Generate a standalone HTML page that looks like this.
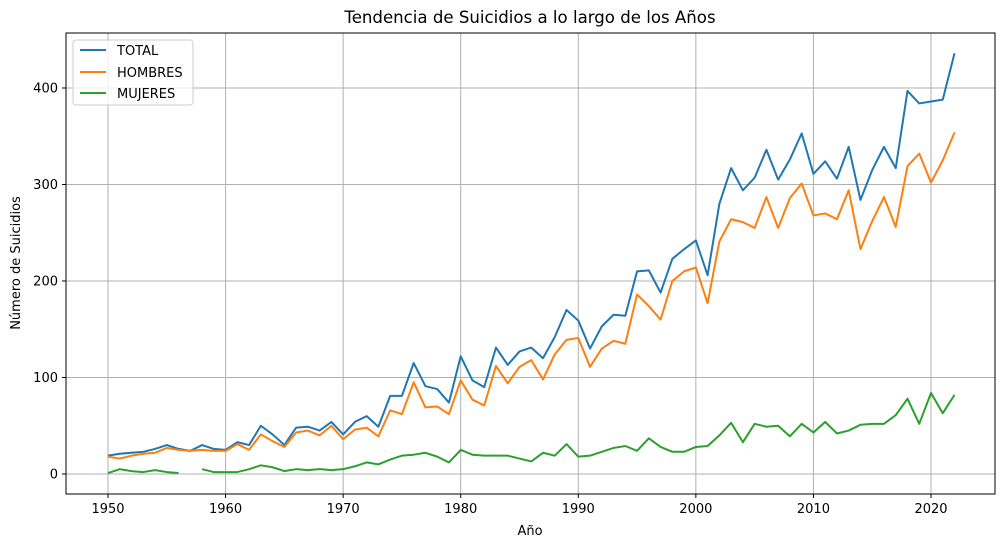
<!DOCTYPE html>
<html><head><meta charset="utf-8"><style>
body{margin:0;background:#fff;}
svg{display:block;font-family:"DejaVu Sans","Liberation Sans",sans-serif;}
</style></head><body>
<svg id="chart" width="1005" height="547" viewBox="0 0 1005 547" xmlns="http://www.w3.org/2000/svg">
<text x="530" y="23" text-anchor="middle" font-size="16.6">Tendencia de Suicidios a lo largo de los Años</text>
<text x="530" y="535" text-anchor="middle" font-size="13">Año</text>
<text x="20" y="263" text-anchor="middle" font-size="13" transform="rotate(-90 20 263)">Número de Suicidios</text>
<g id="grid"></g>
<g id="series"></g>
<rect x="66" y="33" width="929" height="461" fill="none" stroke="#000" stroke-width="1"/>
<g id="ticks"></g>
<g>
<rect x="73" y="40" width="120" height="65" rx="3" fill="#fff" fill-opacity="0.8" stroke="#ccc"/>
<line x1="80" y1="50" x2="106" y2="50" stroke="#1f77b4" stroke-width="2"/>
<text x="117" y="55" font-size="13">TOTAL</text>
<line x1="80" y1="72" x2="106" y2="72" stroke="#ff7f0e" stroke-width="2"/>
<text x="117" y="77" font-size="13">HOMBRES</text>
<line x1="80" y1="93" x2="106" y2="93" stroke="#2ca02c" stroke-width="2"/>
<text x="117" y="98" font-size="13">MUJERES</text>
</g>
</svg>
<script>
const startYear = 1950;
const total = [19,21,22,23,26,30,26,24,30,26,25,33,30,50,41,30,48,49,45,54,41,54,60,49,81,81,115,91,88,74,122,97,90,131,113,127,131,120,142,170,159,130,153,165,164,210,211,188,223,233,242,206,280,317,294,307,336,305,326,353,311,324,306,339,284,315,339,317,397,384,386,388,436];
const hombres = [18,16,19,21,22,27,25,24,25,24,24,31,25,41,34,28,43,45,40,50,36,46,48,39,66,62,95,69,70,62,97,77,71,112,94,111,118,98,124,139,141,111,130,138,135,186,174,160,200,210,214,177,241,264,261,255,287,255,286,301,268,270,264,294,233,262,287,256,319,332,302,325,354];
const mujeres = [1,5,3,2,4,2,1,null,5,2,2,2,5,9,7,3,5,4,5,4,5,8,12,10,15,19,20,22,18,12,25,20,19,19,19,16,13,22,19,31,18,19,23,27,29,24,37,28,23,23,28,29,40,53,33,52,49,50,39,52,43,54,42,45,51,52,52,61,78,52,84,63,82];
const xTicks = [1950,1960,1970,1980,1990,2000,2010,2020];
const yTicks = [0,100,200,300,400];

const NS = "http://www.w3.org/2000/svg";
function xS(yr){return 108 + (yr-1950)*(823/70);}
function yS(v){return 474 - v*0.965;}
const grid = document.getElementById('grid');
const ticks = document.getElementById('ticks');
function mk(tag, attrs, parent){const e=document.createElementNS(NS,tag);for(const k in attrs)e.setAttribute(k,attrs[k]);parent.appendChild(e);return e;}
xTicks.forEach(t=>{
  const x=xS(t);
  const g=mk('line',{x1:x,x2:x,y1:33,y2:494,stroke:'#b0b0b0','stroke-width':1},grid);
  
  
  mk('line',{x1:x,x2:x,y1:494,y2:498,stroke:'#000'},ticks);
  const tx=mk('text',{x:x,y:513,'text-anchor':'middle','font-size':13},ticks);
  
  
  tx.textContent=t;
});
yTicks.forEach(t=>{
  const y=yS(t);
  const g=mk('line',{x1:66,x2:995,y1:y,y2:y,stroke:'#b0b0b0','stroke-width':1},grid);
  
  
  mk('line',{x1:62,x2:66,y1:y,y2:y,stroke:'#000'},ticks);
  const tx=mk('text',{x:58,y:y+4.5,'text-anchor':'end','font-size':13},ticks);
  
  
  tx.textContent=t;
});
const series = document.getElementById('series');
function draw(arr,color,name){
  let d='',pen=false;
  arr.forEach((v,i)=>{
    if(v===null){pen=false;return;}
    d+=(pen?'L':'M')+xS(startYear+i).toFixed(2)+' '+yS(v).toFixed(2)+' ';
    pen=true;
  });
  const p=mk('path',{d:d,fill:'none',stroke:color,'stroke-width':2,'stroke-linejoin':'round'},series);
  
  
}
draw(total,'#1f77b4','line-total');
draw(hombres,'#ff7f0e','line-hombres');
draw(mujeres,'#2ca02c','line-mujeres');
</script>
</body></html>
